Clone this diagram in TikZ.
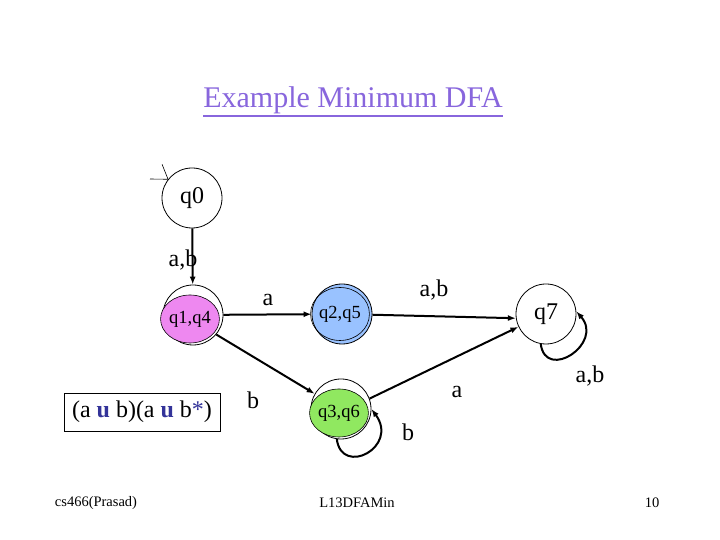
\documentclass[tikz,border=0pt]{standalone}
\usepackage{fontspec}
\setmainfont{Liberation Serif}
\usepackage{xcolor}
\usetikzlibrary{positioning, calc, shapes.geometric, arrows.meta}

\definecolor{titlecol}{RGB}{136,102,221}
\definecolor{pinkfill}{RGB}{238,136,240}
\definecolor{bluefill}{RGB}{153,194,255}
\definecolor{greenfill}{RGB}{144,232,96}
\definecolor{opblue}{RGB}{51,51,153}

\begin{document}
\begin{tikzpicture}[x=1pt, y=1pt,
    state/.style={circle, draw, line width=0.8pt, minimum size=60pt, inner sep=0pt},
    inner/.style={ellipse, draw, line width=0.6pt, minimum width=56pt, minimum height=48pt, inner sep=0pt, font=\fontsize{18.5}{20}\selectfont},
    trans/.style={line width=2pt, -{Latex[length=8pt,width=6pt]}},
    lbl/.style={font=\fontsize{24}{26}\selectfont, inner sep=0pt},
    foot/.style={font=\fontsize{14.5}{16}\selectfont, inner sep=0pt}]
    \useasboundingbox (0,0) rectangle (720,540);
    \fill[white] (0,0) rectangle (720,540);

    \node[text=titlecol, font=\fontsize{30}{36}\selectfont, inner sep=0pt] (title) at (353,440) {Example Minimum DFA};
    \draw[titlecol, line width=1.6pt] (title.south west) ++(0,-2) -- ($(title.south east)+(0,-2)$);

    % states
    \node[state, font=\fontsize{24}{28}\selectfont] (q0) at (192,342) {q0};
    \node[state] (q14) at (193,225) {};
    \node[inner, fill=pinkfill] (q14in) at (190,221) {q1,q4};
    \node[state, fill=bluefill] (q25) at (342,226) {};
    \node[inner, minimum width=57pt, minimum height=53pt] (q25in) at (340,226) {q2,q5};
    \node[state] (q36) at (341,131) {};
    \node[inner, fill=greenfill] (q36in) at (339,127) {q3,q6};
    \node[state, font=\fontsize{24}{28}\selectfont] (q7) at (546,226) {q7};

    % start arrow
    \coordinate (start) at (150,361);
    \draw[line width=0.6pt] (start) -- (q0.142) -- ++(-6,15);

    % transitions
    \draw[trans] (q0) -- (q14);
    \draw[trans] (q14) -- (q25);
    \draw[trans] (q14.-40) -- (q36.150);
    \draw[trans] (q25) -- (q7.188);
    \draw[trans] (q36.20) -- (q7.205);
    \draw[trans] (q36.-98) .. controls +(5,-38) and +(28,-38) .. (q36.0);
    \draw[trans] (q7.-100) .. controls +(5,-38) and +(28,-32) .. (q7.5);

    % labels
    \node[lbl] (l1) at (183,280) {a,b};
    \node[lbl] (l2) at (268,240) {a};
    \node[lbl] (l3) at (253,140) {b};
    \node[lbl] (l4) at (434,250) {a,b};
    \node[lbl] (l5) at (457,148) {a};
    \node[lbl] (l6) at (408,108) {b};
    \node[lbl] (l7) at (590,164) {a,b};

    % expression box
    \node[draw, line width=0.6pt, minimum width=156pt, minimum height=38pt, inner sep=2pt, font=\fontsize{24}{28}\selectfont] (expr) at (142,128)
        {(a \textcolor{opblue}{\textbf{u}} b)(a \textcolor{opblue}{\textbf{u}} b\textcolor{opblue}{*})};

    % footer
    \node[foot] (f1) at (96,37) {cs466(Prasad)};
    \node[foot] (f2) at (357,37) {L13DFAMin};
    \node[foot] (f3) at (652,37) {10};
\end{tikzpicture}
\end{document}
